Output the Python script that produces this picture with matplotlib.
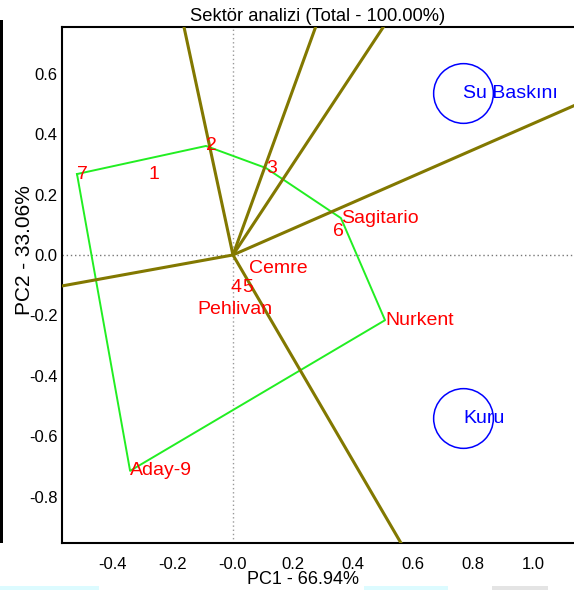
import numpy as np
import matplotlib
matplotlib.use("Agg")
import matplotlib.pyplot as plt
from matplotlib.patches import Rectangle

plt.rcParams['font.family'] = ['Liberation Sans', 'DejaVu Sans']

# Genotype scores (PC1, PC2)
genotypes = ['7', '1', '2', '3', 'Sagitario', '6', 'Cemre', '4', '5',
             'Pehlivan', 'Nurkent', 'Aday-9']
g_pc1 = [-0.520, -0.283, -0.090, 0.110, 0.360, 0.333, 0.053, -0.008, 0.030,
         -0.117, 0.507, -0.343]
g_pc2 = [0.268, 0.268, 0.361, 0.288, 0.122, 0.079, -0.045, -0.109, -0.109,
         -0.179, -0.216, -0.715]

# Convex hull vertices (which-won-where polygon), in drawing order
hull = ['7', '2', '3', 'Sagitario', 'Nurkent', 'Aday-9']

# Environment scores
environments = ['Su Baskını', 'Kuru']
e_pc1 = [0.767, 0.767]
e_pc2 = [0.535, -0.540]

x_ticks = [-0.4, -0.2, 0.0, 0.2, 0.4, 0.6, 0.8, 1.0]
x_ticklabels = ['-0.4', '-0.2', '-0.0', '0.2', '0.4', '0.6', '0.8', '1.0']
y_ticks = [-0.8, -0.6, -0.4, -0.2, 0.0, 0.2, 0.4, 0.6]
y_ticklabels = ['-0.8', '-0.6', '-0.4', '-0.2', '0.0', '0.2', '0.4', '0.6']

W, H = 574, 590
fig = plt.figure(figsize=(W / 100, H / 100), dpi=100)
ax = fig.add_axes([62 / W, 47 / H, 512 / W, 516 / H])
ax.set_xlim(-0.57, 1.137)
ax.set_ylim(-0.954, 0.755)

# reference axes through the origin
ax.axhline(0, color='#777777', lw=1.0, ls=(0, (1, 2)), zorder=1)
ax.axvline(0, color='#999999', lw=1.0, ls=(0, (1, 2)), zorder=1)

idx = {g: i for i, g in enumerate(genotypes)}
hx = [g_pc1[idx[g]] for g in hull] + [g_pc1[idx[hull[0]]]]
hy = [g_pc2[idx[g]] for g in hull] + [g_pc2[idx[hull[0]]]]
ax.plot(hx, hy, color='#22ee22', lw=1.4, zorder=2)

# sector rays: from origin through the foot of the perpendicular to each hull edge
for i in range(len(hull)):
    p = np.array([hx[i], hy[i]])
    q = np.array([hx[i + 1], hy[i + 1]])
    d = q - p
    t = -np.dot(p, d) / np.dot(d, d)
    foot = p + t * d
    u = foot / np.linalg.norm(foot)
    ax.plot([0, 5 * u[0]], [0, 5 * u[1]], color='#827800', lw=2.2,
            solid_capstyle='butt', zorder=3)

for g, x, y in zip(genotypes, g_pc1, g_pc2):
    ax.text(x, y, g, color='#ff0000', fontsize=14, ha='left', va='center',
            zorder=5)

ax.plot(e_pc1, e_pc2, ls='none', marker='o', ms=43, mfc='none',
        mec='#0000ff', mew=1.1, zorder=4)
for e, x, y in zip(environments, e_pc1, e_pc2):
    ax.text(x, y, e, color='#0000ff', fontsize=14, ha='left', va='center',
            zorder=5)

ax.set_xticks(x_ticks)
ax.set_xticklabels(x_ticklabels)
ax.set_yticks(y_ticks)
ax.set_yticklabels(y_ticklabels)
ax.tick_params(axis='x', length=0, pad=10, labelsize=12)
ax.tick_params(axis='y', length=0, pad=3, labelsize=12)

for s in ['left', 'bottom', 'top']:
    ax.spines[s].set_linewidth(1.5)
    ax.spines[s].set_color('black')
ax.spines['right'].set_visible(False)

ax.set_title('Sektör analizi (Total - 100.00%)', fontsize=13.2, pad=4.5)
ax.set_xlabel('PC1 - 66.94%', fontsize=13)
ax.set_ylabel('PC2 - 33.06%', fontsize=15)
ax.xaxis.set_label_coords((303 - 62) / 512, -(580 - 543) / 516)
ax.yaxis.set_label_coords((25 - 62) / 512, (543 - 250) / 516)
ax.xaxis.label.set_va('center')
ax.yaxis.label.set_va('center')

# window frame edge and bottom strips
fig.add_artist(Rectangle((0, 47 / H), 2.5 / W, 523 / H, transform=fig.transFigure,
                         color='black', lw=0))
fig.add_artist(Rectangle((0, 0), 99 / W, 4 / H, transform=fig.transFigure,
                         color='#dcfbff', lw=0))
fig.add_artist(Rectangle((364 / W, 0), 84 / W, 4 / H, transform=fig.transFigure,
                         color='#dcfbff', lw=0))
fig.add_artist(Rectangle((492 / W, 0), 56 / W, 4 / H, transform=fig.transFigure,
                         color='#e4e4e4', lw=0))

fig.savefig('out.png', dpi=100)
